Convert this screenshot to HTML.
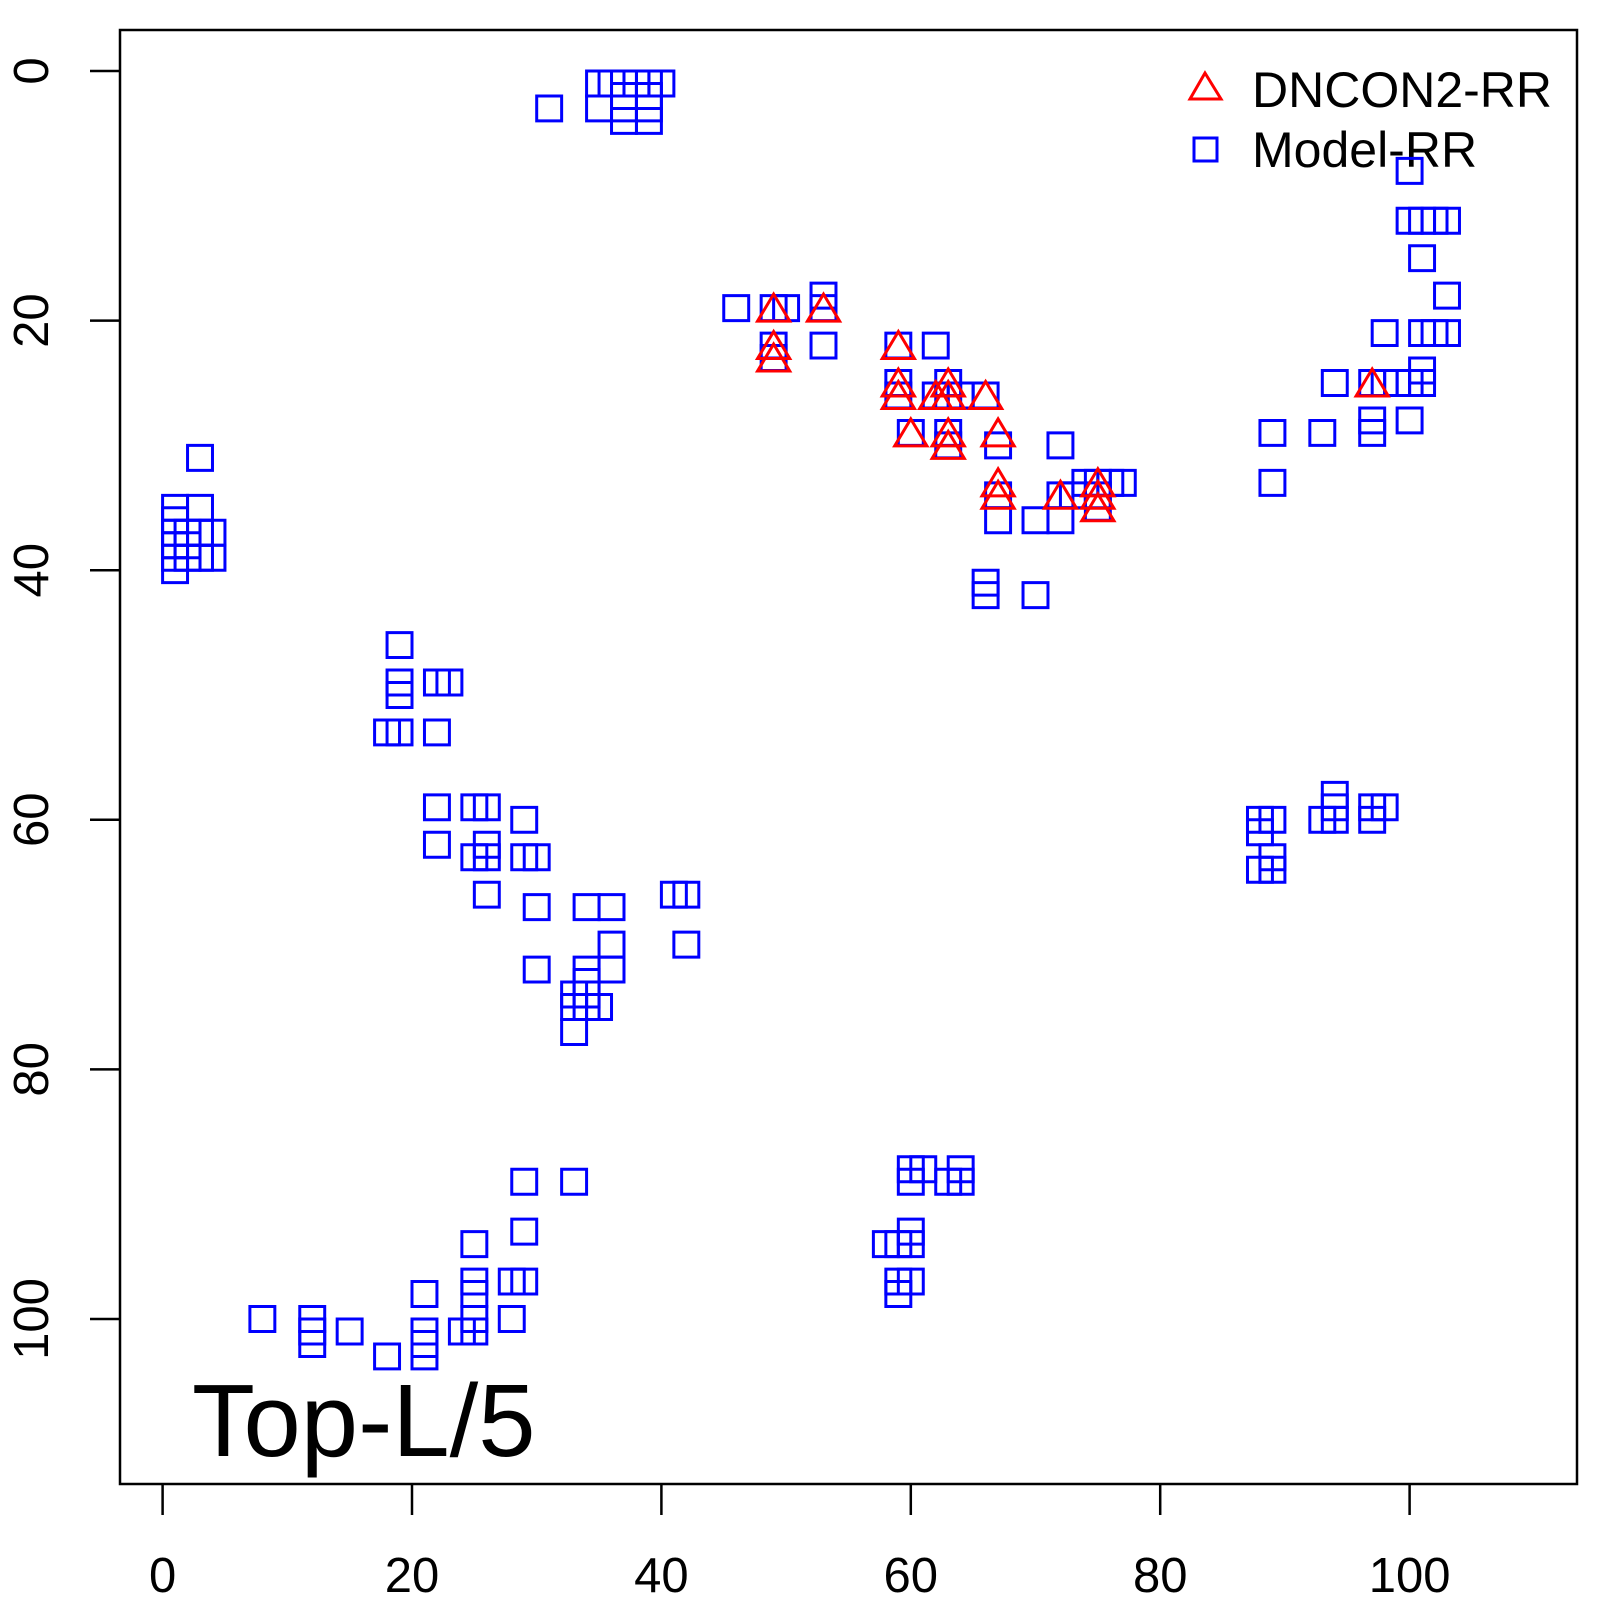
<!DOCTYPE html>
<html><head><meta charset="utf-8"><style>html,body{margin:0;padding:0;background:#fff}</style></head>
<body>
<svg width="1600" height="1600" viewBox="0 0 1600 1600" xmlns="http://www.w3.org/2000/svg" font-family="Liberation Sans, sans-serif">
<defs>
<rect id="s" x="-1.0" y="-1.0" width="2.0" height="2.0" fill="none" stroke="#0000ff" stroke-width="3" vector-effect="non-scaling-stroke"/>
<polygon id="t" points="0,-1.12 -1.29,1.04 1.29,1.04" fill="none" stroke="#ff0000" stroke-width="3" vector-effect="non-scaling-stroke"/>
</defs>
<rect x="120" y="30" width="1457" height="1454" fill="none" stroke="#000" stroke-width="2.5"/>
<g stroke="#000" stroke-width="2.5">
<line x1="162.6" y1="1484" x2="162.6" y2="1515"/><line x1="412" y1="1484" x2="412" y2="1515"/><line x1="661.4" y1="1484" x2="661.4" y2="1515"/><line x1="910.8" y1="1484" x2="910.8" y2="1515"/><line x1="1160.2" y1="1484" x2="1160.2" y2="1515"/><line x1="1409.6" y1="1484" x2="1409.6" y2="1515"/>
<line x1="90" y1="71" x2="120" y2="71"/><line x1="90" y1="320.6" x2="120" y2="320.6"/><line x1="90" y1="570.2" x2="120" y2="570.2"/><line x1="90" y1="819.8" x2="120" y2="819.8"/><line x1="90" y1="1069.4" x2="120" y2="1069.4"/><line x1="90" y1="1319" x2="120" y2="1319"/>
</g>
<g font-size="49" text-anchor="middle" fill="#000">
<text x="162.6" y="1592">0</text><text x="412" y="1592">20</text><text x="661.4" y="1592">40</text><text x="910.8" y="1592">60</text><text x="1160.2" y="1592">80</text><text x="1409.6" y="1592">100</text>
<text transform="translate(48,71) rotate(-90)">0</text><text transform="translate(48,320.6) rotate(-90)">20</text><text transform="translate(48,570.2) rotate(-90)">40</text><text transform="translate(48,819.8) rotate(-90)">60</text><text transform="translate(48,1069.4) rotate(-90)">80</text><text transform="translate(48,1319) rotate(-90)">100</text>
</g>
<text x="192" y="1456" font-size="103" fill="#000">Top-L/5</text>
<polygon points="1205,73 1190,99 1221,99" fill="none" stroke="#ff0000" stroke-width="3"/>
<rect x="1194" y="138" width="23" height="23" fill="none" stroke="#0000ff" stroke-width="3"/>
<text x="1252" y="107" font-size="50" fill="#000">DNCON2-RR</text>
<text x="1252" y="167" font-size="50" fill="#000">Model-RR</text>
<g transform="translate(162.6,71) scale(12.47,12.48)">
<use href="#s" x="31" y="3"/><use href="#s" x="35" y="1"/><use href="#s" x="36" y="1"/><use href="#s" x="37" y="1"/><use href="#s" x="38" y="1"/><use href="#s" x="39" y="1"/><use href="#s" x="40" y="1"/>
<use href="#s" x="37" y="2"/><use href="#s" x="39" y="2"/>
<use href="#s" x="35" y="3"/><use href="#s" x="37" y="3"/><use href="#s" x="39" y="3"/><use href="#s" x="37" y="4"/><use href="#s" x="39" y="4"/>
<use href="#s" x="3" y="31"/>
<use href="#s" x="1" y="35"/><use href="#s" x="1" y="36"/><use href="#s" x="1" y="37"/><use href="#s" x="1" y="38"/><use href="#s" x="1" y="39"/><use href="#s" x="1" y="40"/>
<use href="#s" x="2" y="37"/><use href="#s" x="2" y="38"/><use href="#s" x="2" y="39"/>
<use href="#s" x="3" y="35"/><use href="#s" x="3" y="37"/><use href="#s" x="3" y="39"/><use href="#s" x="4" y="37"/><use href="#s" x="4" y="39"/>
<use href="#s" x="19" y="46"/><use href="#s" x="19" y="49"/><use href="#s" x="19" y="50"/><use href="#s" x="22" y="49"/><use href="#s" x="23" y="49"/>
<use href="#s" x="18" y="53"/><use href="#s" x="19" y="53"/><use href="#s" x="22" y="53"/>
<use href="#s" x="22" y="59"/><use href="#s" x="22" y="62"/><use href="#s" x="25" y="59"/><use href="#s" x="26" y="59"/>
<use href="#s" x="26" y="62"/><use href="#s" x="25" y="63"/><use href="#s" x="26" y="63"/><use href="#s" x="26" y="66"/>
<use href="#s" x="29" y="60"/><use href="#s" x="29" y="63"/><use href="#s" x="30" y="63"/><use href="#s" x="30" y="67"/><use href="#s" x="30" y="72"/>
<use href="#s" x="34" y="67"/><use href="#s" x="36" y="67"/><use href="#s" x="36" y="70"/><use href="#s" x="36" y="72"/>
<use href="#s" x="34" y="72"/><use href="#s" x="34" y="73"/><use href="#s" x="33" y="74"/><use href="#s" x="34" y="74"/><use href="#s" x="33" y="75"/><use href="#s" x="34" y="75"/><use href="#s" x="35" y="75"/><use href="#s" x="33" y="77"/>
<use href="#s" x="41" y="66"/><use href="#s" x="42" y="66"/><use href="#s" x="42" y="70"/>
<use href="#s" x="8" y="100"/><use href="#s" x="12" y="100"/><use href="#s" x="12" y="101"/><use href="#s" x="12" y="102"/><use href="#s" x="15" y="101"/><use href="#s" x="18" y="103"/>
<use href="#s" x="21" y="98"/><use href="#s" x="21" y="101"/><use href="#s" x="21" y="102"/><use href="#s" x="21" y="103"/>
<use href="#s" x="24" y="101"/><use href="#s" x="25" y="101"/><use href="#s" x="25" y="94"/><use href="#s" x="25" y="97"/><use href="#s" x="25" y="98"/><use href="#s" x="25" y="100"/>
<use href="#s" x="28" y="97"/><use href="#s" x="29" y="97"/><use href="#s" x="28" y="100"/><use href="#s" x="29" y="93"/><use href="#s" x="29" y="89"/><use href="#s" x="33" y="89"/>
<use href="#s" x="60" y="88"/><use href="#s" x="61" y="88"/><use href="#s" x="60" y="89"/><use href="#s" x="64" y="88"/><use href="#s" x="64" y="89"/><use href="#s" x="63" y="89"/>
<use href="#s" x="60" y="93"/><use href="#s" x="60" y="94"/><use href="#s" x="58" y="94"/><use href="#s" x="59" y="94"/><use href="#s" x="59" y="97"/><use href="#s" x="60" y="97"/><use href="#s" x="59" y="98"/>
<use href="#s" x="88" y="60"/><use href="#s" x="89" y="60"/><use href="#s" x="88" y="61"/><use href="#s" x="89" y="63"/><use href="#s" x="88" y="64"/><use href="#s" x="89" y="64"/>
<use href="#s" x="93" y="60"/><use href="#s" x="94" y="60"/><use href="#s" x="94" y="59"/><use href="#s" x="94" y="58"/>
<use href="#s" x="97" y="59"/><use href="#s" x="98" y="59"/><use href="#s" x="97" y="60"/>
<use href="#s" x="100" y="8"/><use href="#s" x="100" y="12"/><use href="#s" x="101" y="12"/><use href="#s" x="102" y="12"/><use href="#s" x="103" y="12"/>
<use href="#s" x="101" y="15"/><use href="#s" x="103" y="18"/><use href="#s" x="98" y="21"/><use href="#s" x="101" y="21"/><use href="#s" x="102" y="21"/><use href="#s" x="103" y="21"/>
<use href="#s" x="101" y="24"/><use href="#s" x="94" y="25"/><use href="#s" x="97" y="25"/><use href="#s" x="98" y="25"/><use href="#s" x="99" y="25"/><use href="#s" x="100" y="25"/><use href="#s" x="101" y="25"/>
<use href="#s" x="97" y="28"/><use href="#s" x="97" y="29"/><use href="#s" x="100" y="28"/><use href="#s" x="89" y="29"/><use href="#s" x="93" y="29"/><use href="#s" x="89" y="33"/>
<use href="#s" x="46" y="19"/><use href="#s" x="49" y="19"/><use href="#s" x="50" y="19"/><use href="#s" x="53" y="18"/><use href="#s" x="53" y="19"/>
<use href="#s" x="49" y="22"/><use href="#s" x="49" y="23"/><use href="#s" x="53" y="22"/><use href="#s" x="59" y="22"/><use href="#s" x="62" y="22"/>
<use href="#s" x="59" y="25"/><use href="#s" x="59" y="26"/><use href="#s" x="62" y="26"/><use href="#s" x="63" y="26"/><use href="#s" x="63" y="25"/><use href="#s" x="64" y="26"/><use href="#s" x="66" y="26"/>
<use href="#s" x="60" y="29"/><use href="#s" x="63" y="29"/><use href="#s" x="63" y="30"/><use href="#s" x="67" y="30"/><use href="#s" x="72" y="30"/>
<use href="#s" x="67" y="34"/><use href="#s" x="67" y="36"/><use href="#s" x="66" y="41"/><use href="#s" x="66" y="42"/><use href="#s" x="70" y="42"/>
<use href="#s" x="70" y="36"/><use href="#s" x="72" y="36"/><use href="#s" x="72" y="34"/><use href="#s" x="73" y="34"/>
<use href="#s" x="74" y="33"/><use href="#s" x="75" y="33"/><use href="#s" x="76" y="33"/><use href="#s" x="77" y="33"/><use href="#s" x="75" y="34"/><use href="#s" x="75" y="35"/>
<use href="#t" x="49" y="19"/><use href="#t" x="53" y="19"/><use href="#t" x="49" y="22"/><use href="#t" x="49" y="23"/>
<use href="#t" x="59" y="22"/><use href="#t" x="59" y="25"/><use href="#t" x="59" y="26"/><use href="#t" x="63" y="25"/><use href="#t" x="62" y="26"/><use href="#t" x="63" y="26"/><use href="#t" x="66" y="26"/>
<use href="#t" x="60" y="29"/><use href="#t" x="63" y="29"/><use href="#t" x="63" y="30"/><use href="#t" x="67" y="29"/>
<use href="#t" x="67" y="33"/><use href="#t" x="67" y="34"/><use href="#t" x="72" y="34"/><use href="#t" x="75" y="33"/><use href="#t" x="75" y="34"/><use href="#t" x="75" y="35"/><use href="#t" x="97" y="25"/>
</g>
</svg>
</body></html>
